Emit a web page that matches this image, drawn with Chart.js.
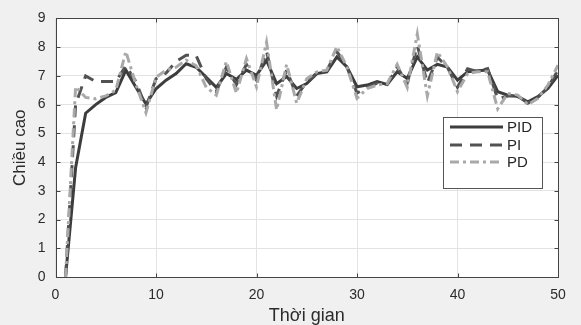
<!DOCTYPE html>
<html>
<head>
<meta charset="utf-8">
<script src="https://cdn.jsdelivr.net/npm/chart.js@4/dist/chart.umd.min.js"></script>
<style>
html,body{margin:0;padding:0;background:#f0f0f0;}
canvas{display:block;}
</style>
</head>
<body>
<canvas id="c" width="581" height="325"></canvas>
<script>
const timeSteps = [1,2,3,4,5,6,7,8,9,10,11,12,13,14,15,16,17,18,19,20,21,22,23,24,25,26,27,28,29,30,31,32,33,34,35,36,37,38,39,40,41,42,43,44,45,46,47,48,49,50];
const pidValues = [0,3.8,5.7,6.0,6.25,6.42,7.2,6.6,6.02,6.55,6.85,7.08,7.42,7.3,6.95,6.6,7.08,6.88,7.2,7.02,7.54,6.73,6.98,6.56,6.73,7.08,7.14,7.66,7.31,6.62,6.68,6.8,6.7,7.14,6.91,7.66,7.2,7.4,7.31,6.85,7.14,7.18,7.2,6.45,6.33,6.28,6.1,6.28,6.56,7.02];
const piValues = [0,6.0,7.0,6.8,6.8,6.8,7.35,6.8,5.9,6.9,7.1,7.5,7.72,7.7,6.9,6.45,7.3,6.7,7.4,6.85,7.85,6.3,7.2,6.3,6.8,7.1,7.2,7.85,7.3,6.4,6.6,6.75,6.7,7.3,6.75,8.05,6.75,7.65,7.3,6.6,7.25,7.15,7.25,6.2,6.3,6.3,6.05,6.25,6.6,7.2];
const pdValues = [0,6.62,6.25,6.2,6.3,6.5,7.85,6.7,5.72,6.95,7.2,7.3,7.55,7.35,6.6,6.33,7.5,6.4,7.6,6.62,8.17,5.82,7.4,6.05,6.9,7.14,7.2,8.02,7.31,6.22,6.56,6.68,6.73,7.4,6.6,8.46,6.3,7.83,7.31,6.45,7.08,7.14,7.14,5.85,6.39,6.33,6.0,6.22,6.68,7.37];
const seriesNames = ['PID','PI','PD'];
const xTicks = [0,10,20,30,40,50];
const yTicks = [0,1,2,3,4,5,6,7,8,9];
const xTitle = 'Thời gian';
const yTitle = 'Chiều cao';

const FONT = '"Liberation Sans", Arial, Helvetica, sans-serif';
const styles = [
  {color:'#3d3d3d', dash:[]},
  {color:'#525252', dash:[12,8]},
  {color:'#a9a9a9', dash:[9,4,3,4]}
];
const seriesValues = [pidValues, piValues, pdValues];

const datasets = seriesNames.map((name,i)=>({
  label: name,
  data: timeSteps.map((t,j)=>({x:t, y:seriesValues[i][j]})),
  borderColor: styles[i].color,
  borderDash: styles[i].dash,
  borderWidth: 3,
  pointRadius: 0,
  tension: 0,
  fill: false,
  borderCapStyle: 'butt',
  borderJoinStyle: 'miter',
  order: 2 - i
}));

const bgPlugin = {
  id:'bg',
  beforeDraw(chart){
    const {ctx, chartArea:a} = chart;
    ctx.save();
    ctx.fillStyle = '#f0f0f0';
    ctx.fillRect(0,0,chart.width,chart.height);
    ctx.fillStyle = '#ffffff';
    ctx.fillRect(a.left,a.top,a.right-a.left,a.bottom-a.top);
    ctx.restore();
  }
};

const boxPlugin = {
  id:'box',
  afterDraw(chart){
    const {ctx, chartArea:a, scales} = chart;
    ctx.save();
    ctx.strokeStyle = '#444444';
    ctx.lineWidth = 1;
    const L = Math.round(a.left)+0.5, R = Math.round(a.right)+0.5, T = Math.round(a.top)+0.5, B = Math.round(a.bottom)+0.5;
    ctx.strokeRect(L, T, R-L, B-T);
    const tl = 4;
    ctx.beginPath();
    xTicks.forEach(v=>{
      const x = Math.round(scales.x.getPixelForValue(v))+0.5;
      ctx.moveTo(x,B); ctx.lineTo(x,B-tl);
      ctx.moveTo(x,T); ctx.lineTo(x,T+tl);
    });
    yTicks.forEach(v=>{
      const y = Math.round(scales.y.getPixelForValue(v))+0.5;
      ctx.moveTo(L,y); ctx.lineTo(L+tl,y);
      ctx.moveTo(R,y); ctx.lineTo(R-tl,y);
    });
    ctx.stroke();

    // legend box (inside plot)
    const lx = 443.5, ly = 117.5, lw = 99, lh = 71;
    ctx.fillStyle = '#ffffff';
    ctx.fillRect(lx,ly,lw,lh);
    ctx.strokeStyle = '#555555';
    ctx.strokeRect(lx,ly,lw,lh);
    const rows = [127,145,162];
    chart.data.datasets.forEach((ds,i)=>{
      ctx.strokeStyle = ds.borderColor;
      ctx.lineWidth = 3;
      ctx.setLineDash(ds.borderDash);
      ctx.lineCap = 'butt';
      ctx.beginPath();
      ctx.moveTo(450, rows[i]);
      ctx.lineTo(503, rows[i]);
      ctx.stroke();
      ctx.setLineDash([]);
      ctx.fillStyle = '#262626';
      ctx.font = '15px ' + FONT;
      ctx.textBaseline = 'middle';
      ctx.textAlign = 'left';
      ctx.fillText(ds.label, 507, rows[i]+1);
    });
    ctx.restore();
  }
};

new Chart(document.getElementById('c'), {
  type:'line',
  data:{datasets},
  options:{
    responsive:false,
    animation:false,
    events:[],
    layout:{padding:{top:16, right:23, left:0, bottom:0}},
    plugins:{legend:{display:false}, tooltip:{enabled:false}},
    scales:{
      x:{
        type:'linear', min:0, max:50,
        afterBuildTicks(s){ s.ticks = xTicks.map(v=>({value:v})); },
        afterFit(s){ s.height = 48; },
        grid:{color:'#e3e3e3', drawTicks:false, lineWidth:1},
        border:{display:false},
        ticks:{color:'#2b2b2b', font:{family:FONT, size:14}, padding:10, maxRotation:0},
        title:{display:true, text:xTitle, color:'#2b2b2b', font:{family:FONT, size:18, lineHeight:1}, padding:{top:0,bottom:0}}
      },
      y:{
        type:'linear', min:0, max:9,
        afterBuildTicks(s){ s.ticks = yTicks.map(v=>({value:v})); },
        afterFit(s){ s.width = 55.5; },
        grid:{color:'#e3e3e3', drawTicks:false, lineWidth:1},
        border:{display:false},
        ticks:{color:'#2b2b2b', font:{family:FONT, size:14}, padding:10},
        title:{display:true, text:yTitle, color:'#2b2b2b', font:{family:FONT, size:17, lineHeight:1}, padding:{top:12,bottom:0}}
      }
    }
  },
  plugins:[bgPlugin, boxPlugin]
});
</script>
</body>
</html>
